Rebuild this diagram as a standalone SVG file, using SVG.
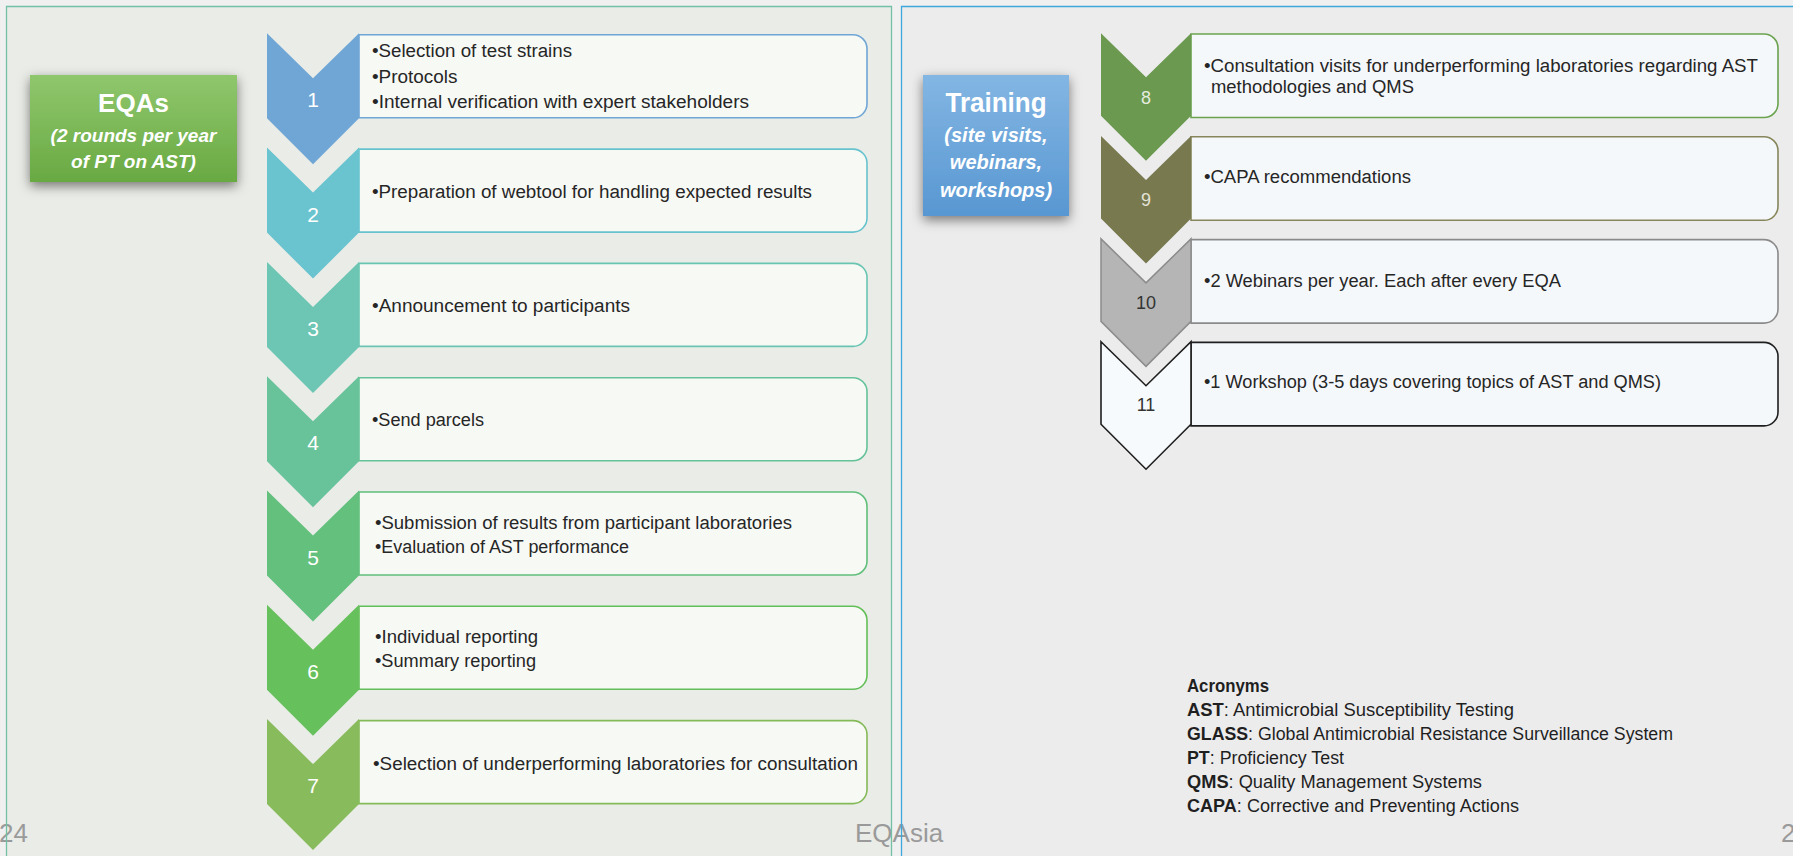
<svg xmlns="http://www.w3.org/2000/svg" width="1793" height="856" viewBox="0 0 1793 856">
<style>
.t{font-family:"Liberation Sans",Arial,sans-serif;font-size:18px;fill:#262626}
.n{font-family:"Liberation Sans",Arial,sans-serif;font-size:21px;fill:#ffffff;text-anchor:middle}
.nr{font-family:"Liberation Sans",Arial,sans-serif;font-size:18px;text-anchor:middle}
.ttl{font-family:"Liberation Sans",Arial,sans-serif;font-weight:bold;fill:#ffffff;text-anchor:middle}
.sub{font-family:"Liberation Sans",Arial,sans-serif;font-weight:bold;font-style:italic;fill:#ffffff;text-anchor:middle}
.ac{font-family:"Liberation Sans",Arial,sans-serif;font-size:17.5px;fill:#1f1f1f}
.b{font-weight:bold}
.ft{font-family:"Liberation Sans",Arial,sans-serif;font-size:26px;fill:#9a9a9a}
.box{stroke-width:1.6}
</style>
<defs>
<linearGradient id="gGreen" x1="0" y1="0" x2="0" y2="1"><stop offset="0" stop-color="#8fc76d"/><stop offset="1" stop-color="#69a942"/></linearGradient>
<linearGradient id="gBlue" x1="0" y1="0" x2="0" y2="1"><stop offset="0" stop-color="#83b6e3"/><stop offset="1" stop-color="#5897d2"/></linearGradient>
<filter id="sh" x="-25%" y="-25%" width="150%" height="160%"><feDropShadow dx="0" dy="4" stdDeviation="6" flood-color="#000" flood-opacity="0.5"/></filter>
<path id="chevL" d="M0,0 L46,45 L92,0 L92,85 L46,131 L0,85 Z"/>
<path id="boxL" d="M0,0 H494 A14,14 0 0 1 508,14 V69 A14,14 0 0 1 494,83 H0 Z"/>
<path id="chevR" d="M0,0 L45,44 L90,0 L90,82.5 L45,127.5 L0,82.5 Z"/>
<path id="boxR" d="M0,0 H573 A14,14 0 0 1 587,14 V69.5 A14,14 0 0 1 573,83.5 H0 Z"/>
</defs>

<g id="background">
<rect x="0" y="0" width="1793" height="856" fill="#f0f0f0"/>
<rect x="6.5" y="6.5" width="885" height="900" fill="#eaece7"/>
<rect x="901.5" y="6.5" width="900" height="900" fill="#ececed"/>
</g>

<g id="footer">
<text class="ft" x="28" y="842" text-anchor="end">24</text>
<text class="ft" x="855" y="842">EQAsia</text>
<text class="ft" x="1781" y="842">2</text>
</g>

<g id="panel-borders" fill="none">
<path d="M6.5,856 V6.5 H891.5 V856" stroke="#72c0a6" stroke-width="1.3"/>
<path d="M901.5,856 V6.5 H1793" stroke="#3ea7dc" stroke-width="1.3"/>
</g>

<g id="eqa-title">
<rect x="30" y="75" width="207" height="107" fill="url(#gGreen)" filter="url(#sh)"/>
<text class="ttl" x="133.5" y="111.5" font-size="26">EQAs</text>
<text class="sub" x="133.5" y="141.5" font-size="19">(2 rounds per year</text>
<text class="sub" x="133.5" y="167.5" font-size="19">of PT on AST)</text>
</g>

<g id="training-title">
<rect x="923" y="75" width="146" height="141" fill="url(#gBlue)" filter="url(#sh)"/>
<text class="ttl" x="996" y="111.5" font-size="27" textLength="101" lengthAdjust="spacingAndGlyphs">Training</text>
<text class="sub" x="996" y="141.5" font-size="20">(site visits,</text>
<text class="sub" x="996" y="168.5" font-size="20">webinars,</text>
<text class="sub" x="996" y="196.5" font-size="20">workshops)</text>
</g>

<g id="step1">
<use href="#boxL" x="359" y="34.8" class="box" fill="#f7f9f5" stroke="#6fa6d6"/>
<use href="#chevL" x="267" y="33.3" fill="#6fa6d6"/>
<text class="n" x="313" y="107.3">1</text>
<text class="t" x="372" y="56.7" textLength="200" lengthAdjust="spacingAndGlyphs">•Selection of test strains</text>
<text class="t" x="372" y="82.5" textLength="85.5" lengthAdjust="spacingAndGlyphs">•Protocols</text>
<text class="t" x="372" y="108.3" textLength="377" lengthAdjust="spacingAndGlyphs">•Internal verification with expert stakeholders</text>
</g>

<g id="step2">
<use href="#boxL" x="359" y="149.1" class="box" fill="#f7f9f5" stroke="#66c3cd"/>
<use href="#chevL" x="267" y="147.6" fill="#6ac4cf"/>
<text class="n" x="313" y="221.6">2</text>
<text class="t" x="372" y="197.8" textLength="440" lengthAdjust="spacingAndGlyphs">•Preparation of webtool for handling expected results</text>
</g>

<g id="step3">
<use href="#boxL" x="359" y="263.4" class="box" fill="#f7f9f5" stroke="#68c5b2"/>
<use href="#chevL" x="267" y="261.9" fill="#6cc6b3"/>
<text class="n" x="313" y="335.9">3</text>
<text class="t" x="372" y="311.9" textLength="258" lengthAdjust="spacingAndGlyphs">•Announcement to participants</text>
</g>

<g id="step4">
<use href="#boxL" x="359" y="377.7" class="box" fill="#f7f9f5" stroke="#64c298"/>
<use href="#chevL" x="267" y="376.2" fill="#68c39a"/>
<text class="n" x="313" y="450.2">4</text>
<text class="t" x="372" y="426" textLength="112" lengthAdjust="spacingAndGlyphs">•Send parcels</text>
</g>

<g id="step5">
<use href="#boxL" x="359" y="492" class="box" fill="#f7f9f5" stroke="#60bf7b"/>
<use href="#chevL" x="267" y="490.5" fill="#63c07d"/>
<text class="n" x="313" y="564.5">5</text>
<text class="t" x="375" y="529.3" textLength="417" lengthAdjust="spacingAndGlyphs">•Submission of results from participant laboratories</text>
<text class="t" x="375" y="552.9" textLength="254" lengthAdjust="spacingAndGlyphs">•Evaluation of AST performance</text>
</g>

<g id="step6">
<use href="#boxL" x="359" y="606.3" class="box" fill="#f7f9f5" stroke="#63bf58"/>
<use href="#chevL" x="267" y="604.8" fill="#66c05b"/>
<text class="n" x="313" y="678.8">6</text>
<text class="t" x="375" y="643.4" textLength="163" lengthAdjust="spacingAndGlyphs">•Individual reporting</text>
<text class="t" x="375" y="667.2" textLength="161" lengthAdjust="spacingAndGlyphs">•Summary reporting</text>
</g>

<g id="step7">
<use href="#boxL" x="359" y="720.6" class="box" fill="#f7f9f5" stroke="#84ba58"/>
<use href="#chevL" x="267" y="719.1" fill="#88bb5c"/>
<text class="n" x="313" y="793.1">7</text>
<text class="t" x="373" y="769.5" textLength="485" lengthAdjust="spacingAndGlyphs">•Selection of underperforming laboratories for consultation</text>
</g>

<g id="step8">
<use href="#boxR" x="1191" y="34" class="box" fill="#f5f8fb" stroke="#6aa34e"/>
<use href="#chevR" x="1101" y="33.3" fill="#6a994f"/>
<text class="nr" x="1146" y="104.3" fill="#e4ebdf">8</text>
<text class="t" x="1204" y="71.7" textLength="554" lengthAdjust="spacingAndGlyphs">•Consultation visits for underperforming laboratories regarding AST</text>
<text class="t" x="1211" y="93.3" textLength="203" lengthAdjust="spacingAndGlyphs">methodologies and QMS</text>
</g>

<g id="step9">
<use href="#boxR" x="1191" y="136.8" class="box" fill="#f5f8fb" stroke="#86865a"/>
<use href="#chevR" x="1101" y="136.1" fill="#79794f"/>
<text class="nr" x="1146" y="206.1" fill="#e2e2d6">9</text>
<text class="t" x="1204" y="183.4" textLength="207" lengthAdjust="spacingAndGlyphs">•CAPA recommendations</text>
</g>

<g id="step10">
<use href="#boxR" x="1191" y="239.6" class="box" fill="#f5f8fb" stroke="#8a8a8a"/>
<use href="#chevR" x="1101" y="238.9" fill="#b5b5b5" stroke="#8c8c8c" stroke-width="1.5"/>
<text class="nr" x="1146" y="308.9" fill="#333333">10</text>
<text class="t" x="1204" y="286.7" textLength="357" lengthAdjust="spacingAndGlyphs">•2 Webinars per year. Each after every EQA</text>
</g>

<g id="step11">
<use href="#boxR" x="1191" y="342.4" class="box" fill="#f5f8fb" stroke="#1f1f1f"/>
<use href="#chevR" x="1101" y="341.7" fill="#f7fafc" stroke="#1f1f1f" stroke-width="1.6"/>
<text class="nr" x="1146" y="410.7" fill="#333333">11</text>
<text class="t" x="1204" y="388.4" textLength="457" lengthAdjust="spacingAndGlyphs">•1 Workshop (3-5 days covering topics of AST and QMS)</text>
</g>

<g id="acronyms">
<text class="ac b" x="1187" y="692" textLength="82" lengthAdjust="spacingAndGlyphs">Acronyms</text>
<text class="ac" x="1187" y="716" textLength="327" lengthAdjust="spacingAndGlyphs"><tspan class="b">AST</tspan>: Antimicrobial Susceptibility Testing</text>
<text class="ac" x="1187" y="740" textLength="486" lengthAdjust="spacingAndGlyphs"><tspan class="b">GLASS</tspan>: Global Antimicrobial Resistance Surveillance System</text>
<text class="ac" x="1187" y="764" textLength="157" lengthAdjust="spacingAndGlyphs"><tspan class="b">PT</tspan>: Proficiency Test</text>
<text class="ac" x="1187" y="788" textLength="295" lengthAdjust="spacingAndGlyphs"><tspan class="b">QMS</tspan>: Quality Management Systems</text>
<text class="ac" x="1187" y="812" textLength="332" lengthAdjust="spacingAndGlyphs"><tspan class="b">CAPA</tspan>: Corrective and Preventing Actions</text>
</g>
</svg>
